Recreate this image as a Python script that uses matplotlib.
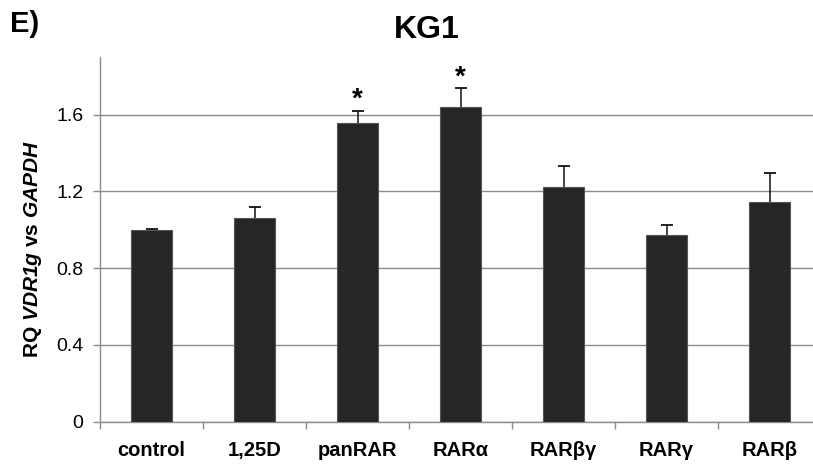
import numpy as np
import matplotlib
matplotlib.use('Agg')
import matplotlib.pyplot as plt

plt.rcParams['font.family'] = ['Liberation Sans', 'DejaVu Sans']
plt.rcParams['mathtext.fontset'] = 'custom'
plt.rcParams['mathtext.bfit'] = 'Liberation Sans:bold:italic'
plt.rcParams['mathtext.bf'] = 'Liberation Sans:bold'
plt.rcParams['mathtext.it'] = 'Liberation Sans:italic'

# data
groups = ['control', '1,25D', 'panRAR', 'RARα', 'RARβγ', 'RARγ', 'RARβ']
rq = [1.00, 1.063, 1.556, 1.640, 1.224, 0.974, 1.146]
sd = [0.003, 0.055, 0.065, 0.099, 0.106, 0.050, 0.149]
signif = [False, False, True, True, False, False, False]
yticks = [0, 0.4, 0.8, 1.2, 1.6]

fig = plt.figure(figsize=(8.13, 4.66), dpi=100)
ax = fig.add_axes([100/813, 1 - 421.5/466, 721/813, (421.5 - 57)/466])

x = np.arange(len(groups))
tops = np.array(rq) + np.array(sd)
ax.bar(x, rq, width=0.40, color='#262626', edgecolor='#555555', linewidth=0.8, zorder=3)
# upper error bars only, cap at the top
ax.vlines(x, rq, tops, colors='#111111', linewidth=1.1, zorder=4)
ax.plot(x, tops, linestyle='none', marker='_', markersize=8, markeredgewidth=1.3,
        color='#111111', zorder=4)

for i in range(len(groups)):
    if signif[i]:
        ax.text(x[i], tops[i] - 0.012, '*', ha='center', va='bottom',
                fontsize=20, fontweight='bold', zorder=5)

ax.set_xlim(-0.5, len(groups) - 0.5)
ax.set_ylim(0, 1.9)
ax.set_yticks(yticks)
ax.set_yticklabels(['0', '0.4', '0.8', '1.2', '1.6'], fontsize=14)
ax.yaxis.grid(True, color='#8c8c8c', linewidth=1.0, zorder=0)
ax.tick_params(axis='y', length=5, width=1, color='#8c8c8c', pad=7)

ax.set_xticks(x)
ax.set_xticklabels(groups, fontsize=14.5, fontweight='bold')
ax.set_xticks(np.arange(-0.5, len(groups)), minor=True)
ax.tick_params(axis='x', which='major', length=0, pad=14)
ax.tick_params(axis='x', which='minor', length=5, width=1, color='#8c8c8c')

for s in ['top', 'right']:
    ax.spines[s].set_visible(False)
for s in ['left', 'bottom']:
    ax.spines[s].set_color('#8c8c8c')
    ax.spines[s].set_linewidth(1.0)

fig.text(33/813, 1 - 249/466, r'RQ $\mathbfit{VDR1g}$ vs $\mathbfit{GAPDH}$',
         rotation=90, ha='center', va='center', fontsize=15, fontweight='bold')
fig.text(427/813, 1 - 38/466, 'KG1', ha='center', va='baseline', fontsize=23, fontweight='bold')
fig.text(10/813, 1 - 31.5/466, 'E)', ha='left', va='baseline', fontsize=21, fontweight='bold')

fig.savefig('out.png', dpi=100)
